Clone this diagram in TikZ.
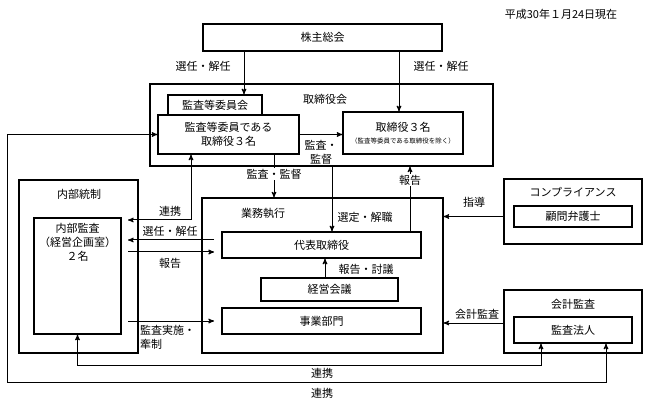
\documentclass[tikz,border=0pt]{standalone}
\usepackage{fontspec}
\setmainfont{Noto Sans CJK JP}
\usetikzlibrary{arrows}

\begin{document}
\begin{tikzpicture}[x=1pt,y=-1pt,>=stealth',font=\fontsize{11}{14}\selectfont]
  \tikzset{box/.style={draw,line width=1.4pt,fill=white,inner sep=0pt},
    frame/.style={draw,line width=1.1pt,inner sep=0pt},
    lab/.style={inner sep=1pt},
    link/.style={line width=1pt}}
  \useasboundingbox (0,0) rectangle (648,406);
  % columns and free ends
  \coordinate (c1) at (244,0);  \coordinate (c2) at (399,0);
  \coordinate (c3) at (332,0);  \coordinate (c4) at (410,0);
  \coordinate (c5) at (274,0);  \coordinate (c6) at (191,0);
  \coordinate (c7) at (325,0);  \coordinate (c8) at (541,0);
  \coordinate (c9) at (606,0);  \coordinate (c10) at (7,0);
  \coordinate (l1) at (128,220); \coordinate (l2) at (128,240);
  \coordinate (l3) at (128,252); \coordinate (l4) at (128,321);
  \coordinate (r2) at (214,240); \coordinate (r3) at (214,252);
  \coordinate (r4) at (214,321);

  \node (date) at (561,14) {平成30年１月24日現在};
  \node[box,minimum width=239pt,minimum height=27pt] (soukai) at (322.5,37.5) {株主総会};

  % board
  \node[frame,minimum width=343pt,minimum height=82pt] (torikai) at (321.5,125) {};
  \node (torikailab) at (325,99) {取締役会};
  \node[box,minimum width=94pt,minimum height=25pt] (iinkai) at (215,107.5) {};
  \node (iinkailab) at (215,105) {監査等委員会};
  \node[box,align=center,minimum width=141pt,minimum height=39pt] (iin3) at (228.5,134.5) {監査等委員である\\取締役３名};
  \node[box,align=center,minimum width=120pt,minimum height=42pt] (tori3) at (403,133)
    {取締役３名\\[-2pt]{\fontsize{6.5}{8}\selectfont （監査等委員である取締役を除く）}};

  % execution
  \node[frame,minimum width=241pt,minimum height=155pt] (gyomu) at (322.5,275.5) {};
  \node (gyomulab) at (263,213) {業務執行};
  \node[box,minimum width=199pt,minimum height=26pt] (daihyo) at (321.5,245) {代表取締役};
  \node[box,minimum width=137pt,minimum height=23pt] (keiei) at (329.5,289.5) {経営会議};
  \node[box,minimum width=199pt,minimum height=26pt] (jigyo) at (321.5,321) {事業部門};

  % internal control
  \node[frame,minimum width=119pt,minimum height=173pt] (naibu) at (78.5,266.5) {};
  \node (naibulab) at (79,194) {内部統制};
  \node[box,minimum width=87pt,minimum height=116pt] (naibukansa) at (77.5,276) {};
  \node[below,align=center,inner sep=6pt] (naibukansalab) at (naibukansa.north) {内部監査\\（経営企画室）\\２名};

  % outside
  \node[frame,minimum width=138pt,minimum height=65pt] (comp) at (573,211.5) {};
  \node (complab) at (573,192) {コンプライアンス};
  \node[box,minimum width=118pt,minimum height=21pt] (komon) at (573,216.5) {顧問弁護士};
  \node[frame,minimum width=138pt,minimum height=63pt] (kaikei) at (573,321.5) {};
  \node (kaikeilab) at (573,304) {会計監査};
  \node[box,minimum width=118pt,minimum height=26pt] (hojin) at (573,330) {監査法人};

  % connectors
  \draw[->,link] (soukai.south -| c1) -- (iinkai.north -| c1);
  \draw[->,link] (soukai.south -| c2) -- (tori3.north -| c2);
  \node (sennin1) at (203,66) {選任・解任};
  \node (sennin2) at (441,66) {選任・解任};
  \draw[->,link] (iin3.east) -- (iin3.east -| tori3.west);
  \node[align=center,lab] (kansa1) at (321,152) {監査・\\監督};
  \draw[->,link] (torikai.south -| c3) -- (daihyo.north -| c3);
  \node (sentei) at (365,217) {選定・解職};
  \draw[->,link] (daihyo.north -| c4) -- (torikai.south -| c4)
    node[lab,fill=white,pos=0.79] (hokoku1) {報告};
  \draw[->,link] (iin3.south -| c5) -- (gyomu.north -| c5)
    node[lab,fill=white,pos=0.45] (kansa2) {監査・監督};
  \draw[->,link] (keiei.north -| c7) -- (daihyo.south -| c7);
  \node (tougi) at (366,269) {報告・討議};

  \draw[<->,link] (iin3.south -| c6) |- (l1);
  \node (renkei1) at (170,211) {連携};
  \draw[->,link] (r2) -- (l2);
  \node (sennin3) at (170,231) {選任・解任};
  \draw[->,link] (l3) -- (r3);
  \node (hokoku2) at (170,263) {報告};
  \draw[->,link] (l4) -- (r4);
  \node[anchor=north west,align=left,inner sep=0pt] (kansa3) at (140,325) {監査実施・\\牽制};

  \draw[->,link] (comp.west |- komon) -- (gyomu.east |- komon);
  \node (shido) at (474,202) {指導};
  \draw[->,link] (kaikei.west |- 0,323) -- (gyomu.east |- 0,323);
  \node (kaikeikansa) at (477,314) {会計監査};

  \draw[<->,link] (naibukansa.south) -- ++(0,31) -| (hojin.south -| c8);
  \node (renkei2) at (322,373) {連携};
  \draw[<->,link] (iin3.west) -- (iin3.west -| c10) -- ++(0,248) -| (hojin.south -| c9);
  \node (renkei3) at (322,393) {連携};
\end{tikzpicture}
\end{document}
